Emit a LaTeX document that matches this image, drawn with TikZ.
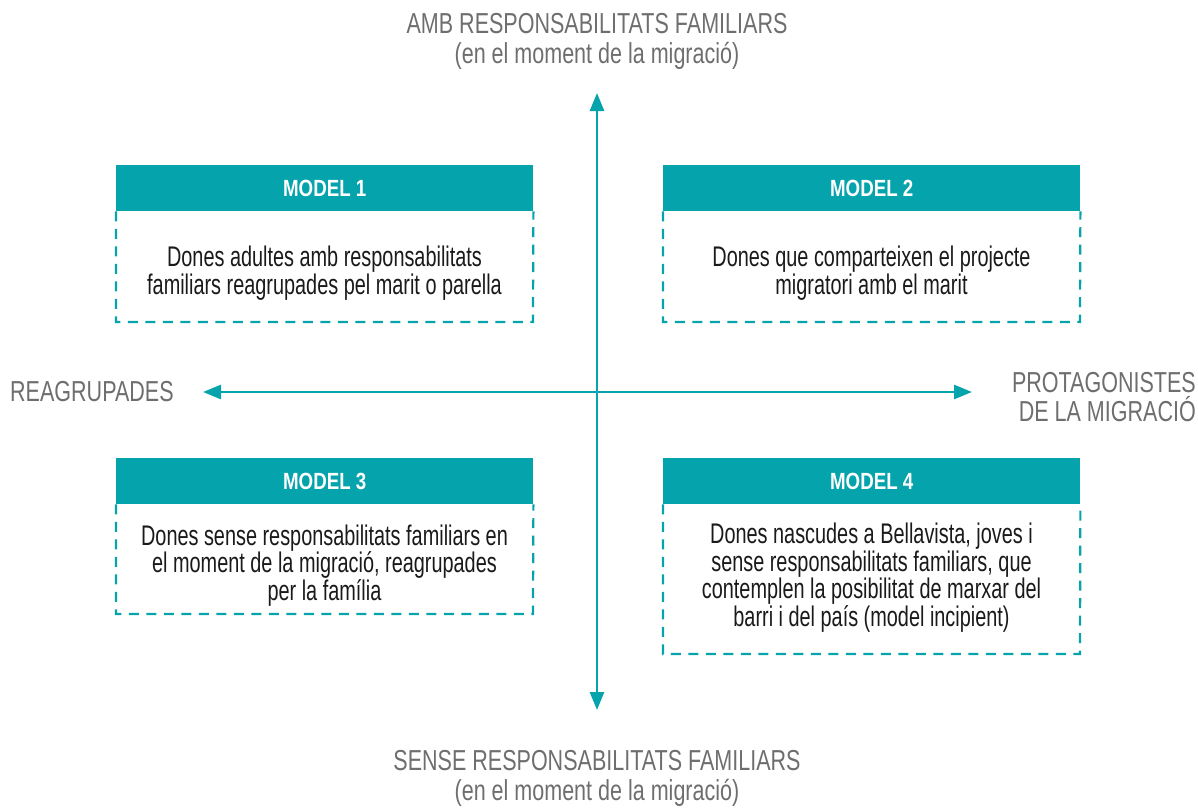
\documentclass[tikz,border=0pt]{standalone}
\usepackage{fontspec}
\setmainfont{Liberation Sans}
\newfontfamily\bodyf{Liberation Sans}[FakeStretch=0.70]
\newfontfamily\axf{Liberation Sans}[FakeStretch=0.745]
\newfontfamily\hdrf{Liberation Sans}[FakeStretch=0.80]
\usetikzlibrary{arrows.meta}
\definecolor{teal1}{HTML}{05A3AC}
\definecolor{axisgray}{HTML}{6E6E6E}
\definecolor{txt}{HTML}{1A1A1A}
\begin{document}
\begin{tikzpicture}[x=1bp,y=-1bp,
  hdr/.style={fill=teal1,draw=none,minimum width=417bp,minimum height=46bp,inner sep=0pt,
    text=white,font=\hdrf\fontsize{23.5}{26}\selectfont\bfseries},
  body/.style={text=txt,align=center,inner sep=0pt,font=\bodyf\fontsize{28.5}{26.5}\selectfont},
  dbox/.style={draw=teal1,line width=2.2bp,dash pattern=on 10bp off 7.5bp},
  axis/.style={draw=teal1,line width=2.7bp,{Triangle[length=18bp,width=14bp]}-{Triangle[length=18bp,width=14bp]}},
  axlab/.style={text=axisgray,inner sep=0pt,font=\axf\fontsize{29}{30}\selectfont,align=center}]
\useasboundingbox (0,0) rectangle (1198,808);
% axes
\coordinate (vt) at (597,93);
\coordinate (vb) at (597,710);
\coordinate (hl) at (203,392);
\coordinate (hr) at (972,392);
\draw[axis] (vt) -- (vb);
\draw[axis] (hl) -- (hr);
% axis labels
\node[axlab] (top) at (597,41.5) {AMB RESPONSABILITATS FAMILIARS\\(en el moment de la migració)};
\node[axlab] (bot) at (597,778) {SENSE RESPONSABILITATS FAMILIARS\\(en el moment de la migració)};
\node[axlab,anchor=west] (left) at (10,392) {REAGRUPADES};
\node[axlab,align=right,anchor=east] (right) at (1196,397) {PROTAGONISTES\\DE LA MIGRACIÓ};
% model 1
\node[hdr,anchor=north west] (h1) at (116,165) {MODEL 1};
\draw[dbox] (h1.south west) -- (116,322) -- (533,322) -- (h1.south east);
\node[body] (b1) at (324.5,273) {Dones adultes amb responsabilitats\\familiars reagrupades pel marit o parella};
% model 2
\node[hdr,anchor=north west] (h2) at (663,165) {MODEL 2};
\draw[dbox] (h2.south west) -- (663,322) -- (1080,322) -- (h2.south east);
\node[body] (b2) at (871.5,273) {Dones que comparteixen el projecte\\migratori amb el marit};
% model 3
\node[hdr,anchor=north west] (h3) at (116,458) {MODEL 3};
\draw[dbox] (h3.south west) -- (116,614) -- (533,614) -- (h3.south east);
\node[body] (b3) at (324.5,565.5) {Dones sense responsabilitats familiars en\\el moment de la migració, reagrupades\\per la família};
% model 4
\node[hdr,anchor=north west] (h4) at (663,458) {MODEL 4};
\draw[dbox] (h4.south west) -- (663,654) -- (1080,654) -- (h4.south east);
\node[body] (b4) at (871.5,578) {Dones nascudes a Bellavista, joves i\\sense responsabilitats familiars, que\\contemplen la posibilitat de marxar del\\barri i del país (model incipient)};
\end{tikzpicture}
\end{document}
